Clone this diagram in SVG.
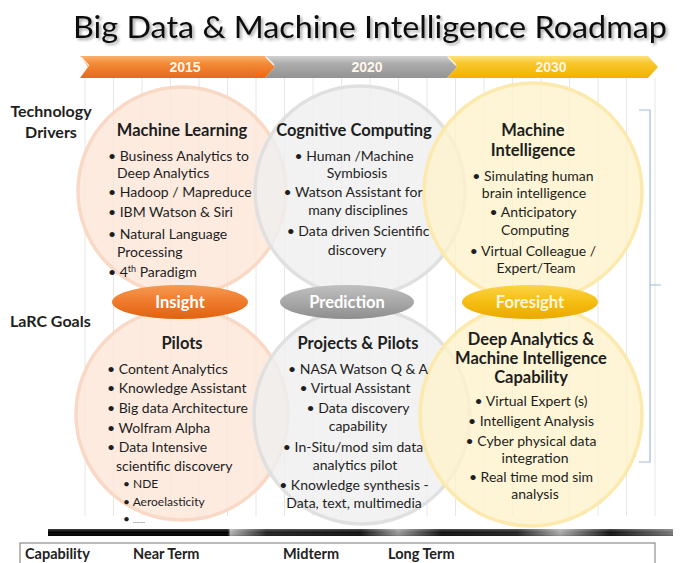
<svg xmlns="http://www.w3.org/2000/svg" width="681" height="563" viewBox="0 0 681 563">
<defs>
  <linearGradient id="gOr" x1="0" y1="0" x2="0" y2="1">
    <stop offset="0" stop-color="#fbb06b"/><stop offset="0.35" stop-color="#f28a36"/><stop offset="1" stop-color="#e8681a"/>
  </linearGradient>
  <linearGradient id="gGr" x1="0" y1="0" x2="0" y2="1">
    <stop offset="0" stop-color="#d2d2d2"/><stop offset="0.35" stop-color="#acacac"/><stop offset="1" stop-color="#939393"/>
  </linearGradient>
  <linearGradient id="gYe" x1="0" y1="0" x2="0" y2="1">
    <stop offset="0" stop-color="#fde27a"/><stop offset="0.35" stop-color="#f8c52a"/><stop offset="1" stop-color="#efb300"/>
  </linearGradient>
  <linearGradient id="eOr" x1="0" y1="0" x2="0" y2="1">
    <stop offset="0" stop-color="#f59a52"/><stop offset="0.5" stop-color="#ef7a2c"/><stop offset="1" stop-color="#e0620f"/>
  </linearGradient>
  <linearGradient id="eGr" x1="0" y1="0" x2="0" y2="1">
    <stop offset="0" stop-color="#c0c0c0"/><stop offset="0.5" stop-color="#a8a8a8"/><stop offset="1" stop-color="#8e8e8e"/>
  </linearGradient>
  <linearGradient id="eYe" x1="0" y1="0" x2="0" y2="1">
    <stop offset="0" stop-color="#fbd447"/><stop offset="0.5" stop-color="#f5bd12"/><stop offset="1" stop-color="#eaa900"/>
  </linearGradient>
  <linearGradient id="bar" x1="0" y1="0" x2="1" y2="0">
    <stop offset="0" stop-color="#000"/><stop offset="0.288" stop-color="#000"/>
    <stop offset="0.292" stop-color="#b0b0b0"/><stop offset="0.35" stop-color="#222"/>
    <stop offset="0.5" stop-color="#111"/><stop offset="0.56" stop-color="#999"/>
    <stop offset="0.63" stop-color="#111"/><stop offset="0.75" stop-color="#222"/>
    <stop offset="0.82" stop-color="#aaa"/><stop offset="0.9" stop-color="#111"/>
    <stop offset="1" stop-color="#777"/>
  </linearGradient>
  <linearGradient id="barv" x1="0" y1="0" x2="0" y2="1">
    <stop offset="0" stop-color="#fff" stop-opacity="0.25"/><stop offset="0.5" stop-color="#fff" stop-opacity="0"/><stop offset="1" stop-color="#000" stop-opacity="0.2"/>
  </linearGradient>
  <filter id="shadow" x="-5%" y="-30%" width="110%" height="160%">
    <feGaussianBlur in="SourceAlpha" stdDeviation="1.5"/>
    <feOffset dx="1.5" dy="2" result="o"/>
    <feComponentTransfer><feFuncA type="linear" slope="0.35"/></feComponentTransfer>
    <feMerge><feMergeNode/><feMergeNode in="SourceGraphic"/></feMerge>
  </filter>
</defs>
<style>
  text { font-family: Lato, "Liberation Sans", "DejaVu Sans", sans-serif; fill: #1e1e1e; }
  .title { font-size: 30px; fill: #111; }
  .yr { font-family: "Liberation Sans", sans-serif; font-weight: bold; font-size: 14px; fill: #fff6ea; text-anchor: middle; }
  .hd { font-size: 16.5px; font-weight: bold; text-anchor: middle; }
  .b { font-size: 14px; }
  .c { font-size: 14px; text-anchor: middle; }
  .s { font-size: 12px; }
  .side { font-size: 16px; font-weight: bold; }
  .lbl { font-size: 16.5px; font-weight: bold; fill: #fff; text-anchor: middle; }
  .tb { font-size: 14.5px; font-weight: bold; fill: #222; }
  .grid { stroke: #e6e6e6; stroke-width: 1; }
  .cOr { fill: #fde6d8; fill-opacity: 0.8; stroke: #f9d9c5; stroke-width: 3.5; }
  .cGr { fill: #efefef; fill-opacity: 0.8; stroke: #e0e0e0; stroke-width: 3.5; }
  .cYe { fill: #fdf2ca; fill-opacity: 0.8; stroke: #fbe9ad; stroke-width: 3.5; }
  .brk { fill: none; stroke: #9dbcd8; stroke-width: 1.2; }
</style>
<rect width="681" height="563" fill="#fff"/>

<g id="grid">
  <path class="grid" d="M85 78V516M113.5 78V516M142 78V516M170.5 78V516M199 78V516M227.5 78V516M256 78V516M284.5 78V516M313 78V516M341.5 78V516M370 78V516M398.5 78V516M427 78V516M455.5 78V516M484 78V516M512.5 78V516M541 78V516M569.5 78V516M598 78V516M626.5 78V516M655 78V516"/>
</g>

<g id="title">
  <text class="title" x="73" y="38" textLength="594" lengthAdjust="spacingAndGlyphs" filter="url(#shadow)">Big Data &amp; Machine Intelligence Roadmap</text>
</g>

<g id="timeline">
  <polygon points="80,56 265,56 275,67 265,78 80,78 88,67" fill="url(#gOr)"/>
  <polygon points="265,56 447,56 457,67 447,78 265,78 275,67" fill="url(#gGr)"/>
  <polygon points="447,56 648,56 658,67 648,78 447,78 457,67" fill="url(#gYe)"/>
  <path d="M81 57L89 66M266 57L274 65M448 57L456 65" stroke="#fff" stroke-width="1.5" opacity="0.8"/>
  <text class="yr" x="185" y="72">2015</text>
  <text class="yr" x="367" y="72">2020</text>
  <text class="yr" x="551" y="72">2030</text>
</g>

<g id="circles">
  <circle class="cOr" cx="182" cy="191" r="104"/>
  <circle class="cGr" cx="360" cy="191" r="105"/>
  <circle class="cYe" cx="533" cy="192" r="109"/>
  <circle class="cOr" cx="182" cy="414" r="106"/>
  <circle class="cGr" cx="362" cy="416" r="108"/>
  <circle class="cYe" cx="531" cy="415" r="111"/>
</g>

<g id="side-labels">
  <text class="side" x="51" y="117" text-anchor="middle">Technology</text>
  <text class="side" x="51" y="138" text-anchor="middle">Drivers</text>
  <text class="side" x="10" y="327">LaRC Goals</text>
</g>

<g id="machine-learning">
  <text class="hd" x="182" y="136">Machine Learning</text>
  <text class="b" x="108" y="161">• Business Analytics to</text>
  <text class="b" x="117" y="178">Deep Analytics</text>
  <text class="b" x="108" y="197">• Hadoop / Mapreduce</text>
  <text class="b" x="108" y="217">• IBM Watson &amp; Siri</text>
  <text class="b" x="108" y="239">• Natural Language</text>
  <text class="b" x="117" y="257">Processing</text>
  <text class="b" x="108" y="277">• 4<tspan font-size="9" dy="-5">th</tspan><tspan dy="5"> Paradigm</tspan></text>
</g>

<g id="cognitive-computing">
  <text class="hd" x="354" y="136">Cognitive Computing</text>
  <text class="c" x="354" y="161">• Human /Machine</text>
  <text class="c" x="357" y="178">Symbiosis</text>
  <text class="c" x="353" y="197">•  Watson Assistant for</text>
  <text class="c" x="358" y="215">many disciplines</text>
  <text class="c" x="358" y="236">• Data driven Scientific</text>
  <text class="c" x="357" y="255">discovery</text>
</g>

<g id="machine-intelligence">
  <text class="hd" x="533" y="136">Machine</text>
  <text class="hd" x="533" y="156">Intelligence</text>
  <text class="c" x="533" y="181">• Simulating human</text>
  <text class="c" x="534" y="198">brain intelligence</text>
  <text class="c" x="533" y="217">• Anticipatory</text>
  <text class="c" x="535" y="235">Computing</text>
  <text class="c" x="533" y="256">• Virtual Colleague /</text>
  <text class="c" x="536" y="273">Expert/Team</text>
</g>

<g id="insight">
  <ellipse cx="180" cy="302" rx="68" ry="17" fill="url(#eOr)"/>
  <text class="lbl" x="180" y="308">Insight</text>
</g>
<g id="prediction">
  <ellipse cx="347" cy="302" rx="67" ry="17" fill="url(#eGr)"/>
  <text class="lbl" x="347" y="308">Prediction</text>
</g>
<g id="foresight">
  <ellipse cx="530" cy="302" rx="68" ry="17" fill="url(#eYe)"/>
  <text class="lbl" x="530" y="308" style="fill:#fff8dc">Foresight</text>
</g>

<g id="pilots">
  <text class="hd" x="182" y="349">Pilots</text>
  <text class="b" x="107" y="374">• Content Analytics</text>
  <text class="b" x="107" y="393">• Knowledge Assistant</text>
  <text class="b" x="107" y="413">• Big data Architecture</text>
  <text class="b" x="107" y="433">• Wolfram Alpha</text>
  <text class="b" x="107" y="452">• Data Intensive</text>
  <text class="b" x="116" y="471">scientific discovery</text>
  <text class="s" x="123" y="488">• NDE</text>
  <text class="s" x="123" y="506">• Aeroelasticity</text>
  <text class="s" x="123" y="523">• <tspan font-size="6">……..</tspan></text>
</g>

<g id="projects-pilots">
  <text class="hd" x="358" y="349">Projects &amp; Pilots</text>
  <text class="c" x="358" y="374">•  NASA Watson  Q &amp; A</text>
  <text class="c" x="355" y="393">• Virtual Assistant</text>
  <text class="c" x="358" y="413">• Data discovery</text>
  <text class="c" x="358" y="431">capability</text>
  <text class="c" x="353" y="452">• In-Situ/mod sim data</text>
  <text class="c" x="355" y="470">analytics pilot</text>
  <text class="c" x="354" y="490">• Knowledge synthesis  -</text>
  <text class="c" x="354" y="508">Data, text, multimedia</text>
</g>

<g id="deep-analytics">
  <text class="hd" x="531" y="345">Deep Analytics &amp;</text>
  <text class="hd" x="531" y="364">Machine Intelligence</text>
  <text class="hd" x="531" y="383">Capability</text>
  <text class="c" x="531" y="406">• Virtual Expert (s)</text>
  <text class="c" x="531" y="426">• Intelligent Analysis</text>
  <text class="c" x="531" y="446">• Cyber physical data</text>
  <text class="c" x="535" y="463">integration</text>
  <text class="c" x="531" y="482">• Real time mod sim</text>
  <text class="c" x="535" y="499">analysis</text>
</g>

<g id="connectors">
  <path class="brk" d="M639 110H650V462H639M650 285H661"/>
</g>

<g id="bottom-bar">
  <rect x="48" y="529" width="625" height="7" fill="url(#bar)"/>
  <rect x="48" y="529" width="625" height="7" fill="url(#barv)"/>
</g>

<g id="capability-table">
  <rect x="20" y="543" width="635" height="30" fill="#fff" stroke="#777" stroke-width="1"/>
  <text class="tb" x="25" y="559">Capability</text>
  <text class="tb" x="133" y="559">Near Term</text>
  <text class="tb" x="283" y="559">Midterm</text>
  <text class="tb" x="388" y="559">Long Term</text>
</g>
</svg>
